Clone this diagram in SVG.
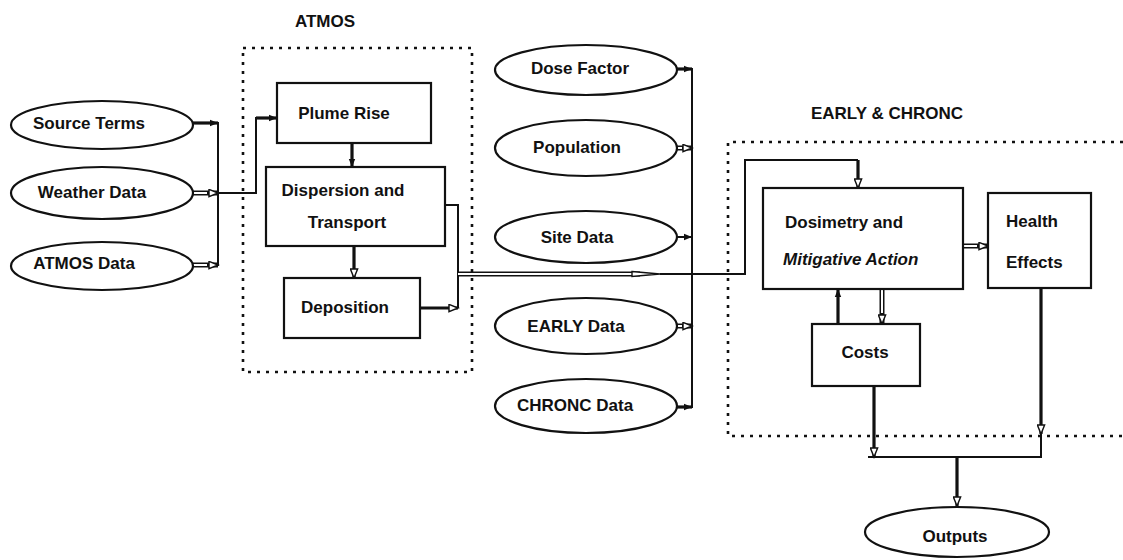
<svg xmlns="http://www.w3.org/2000/svg" width="1123" height="560" viewBox="0 0 1123 560">
<style>
text{font-family:"Liberation Sans",Arial,sans-serif;font-size:17px;font-weight:bold;fill:#111}
.c{text-anchor:middle}
.node{fill:#fff;stroke:#111;stroke-width:2.2}
.dot{fill:none;stroke:#111;stroke-width:2.6;stroke-dasharray:3 6}
.ln{fill:none;stroke:#111;stroke-width:2}
.th{fill:none;stroke:#111;stroke-width:3.2}
.dout{fill:none;stroke:#111;stroke-width:5}
.din{fill:none;stroke:#fff;stroke-width:2}
</style>
<defs>
<marker id="as" viewBox="0 0 10 10" refX="10" refY="5" markerUnits="userSpaceOnUse" markerWidth="9" markerHeight="8" orient="auto">
<path d="M0,1 L10,5 L0,9 z" fill="#111"/>
</marker>
<marker id="ah" viewBox="0 0 12 10" refX="11" refY="5" markerUnits="userSpaceOnUse" markerWidth="12" markerHeight="9" orient="auto">
<path d="M1,1 L11,5 L1,9 z" fill="#fff" stroke="#111" stroke-width="1.6"/>
</marker>
</defs>

<g id="atmos-boundary">
<rect class="dot" x="243" y="48" width="229" height="324"/>
<text x="325" y="27" class="c">ATMOS</text>
</g>
<g id="early-chronc-boundary">
<path class="dot" d="M1123,142 H728 V436 H1123"/>
<text x="887" y="119" class="c">EARLY &amp; CHRONC</text>
</g>

<g id="connectors">
<!-- left inputs -->
<path class="th" d="M193,123 H218" marker-end="url(#as)"/>
<path class="dout" d="M193,193 H218" marker-end="url(#ah)"/>
<path class="din" d="M193,193 H207"/>
<path class="dout" d="M193,265 H218" marker-end="url(#ah)"/>
<path class="din" d="M193,265 H207"/>
<path class="ln" d="M218,122 V266"/>
<path class="ln" d="M218,193 H256 V118 H262"/>
<path class="th" d="M256,118 H277" marker-end="url(#as)"/>
<!-- inside ATMOS -->
<path class="th" d="M352,143 V167" marker-end="url(#as)"/>
<path class="th" d="M354,246 V278" marker-end="url(#ah)"/>
<path class="ln" d="M445,205 H458 V308"/>
<path class="th" d="M420,308 H458" marker-end="url(#ah)"/>
<!-- to dosimetry -->
<path class="dout" d="M458,274 H640"/>
<path class="din" d="M458,274 H634"/>
<path d="M632,271.5 L660,274 L632,276.5 z" fill="#fff" stroke="#111" stroke-width="1.4"/>
<path class="ln" d="M660,274 H745 V160 H858"/>
<path class="th" d="M858,160 V188" marker-end="url(#ah)"/>
<!-- middle inputs bus -->
<path class="ln" d="M692,68 V408"/>
<path class="th" d="M677,69 H692" marker-end="url(#as)"/>
<path class="dout" d="M677,148 H692" marker-end="url(#ah)"/>
<path class="din" d="M677,148 H682"/>
<path class="ln" d="M677,237 H692" marker-end="url(#as)"/>
<path class="dout" d="M677,326 H692" marker-end="url(#ah)"/>
<path class="din" d="M677,326 H682"/>
<path class="th" d="M677,407 H692" marker-end="url(#as)"/>
<!-- right section -->
<path class="dout" d="M963,246 H988" marker-end="url(#ah)"/>
<path class="din" d="M963,246 H977"/>
<path class="th" d="M838,324 V289" marker-end="url(#as)"/>
<path class="dout" d="M882,289 V324" marker-end="url(#ah)"/>
<path class="din" d="M882,289 V313"/>
<path class="th" d="M874,386 V457" marker-end="url(#ah)"/>
<path class="th" d="M1041,288 V434" marker-end="url(#ah)"/>
<path class="ln" d="M1041,434 V457"/>
<path class="ln" d="M868,457 H1042"/>
<path class="th" d="M957,457 V506" marker-end="url(#ah)"/>
</g>

<g id="source-terms"><ellipse class="node" cx="102" cy="125" rx="91" ry="24"/><text x="89" y="129" class="c">Source Terms</text></g>
<g id="weather-data"><ellipse class="node" cx="102" cy="193" rx="91" ry="26"/><text x="92" y="198" class="c">Weather Data</text></g>
<g id="atmos-data"><ellipse class="node" cx="102" cy="266" rx="91" ry="24"/><text x="84" y="269" class="c">ATMOS Data</text></g>

<g id="plume-rise"><rect class="node" x="277" y="83" width="154" height="60"/><text x="344" y="119" class="c">Plume Rise</text></g>
<g id="dispersion"><rect class="node" x="266" y="167" width="179" height="79"/><text x="343" y="196" class="c">Dispersion and</text><text x="347" y="228" class="c">Transport</text></g>
<g id="deposition"><rect class="node" x="284" y="278" width="136" height="60"/><text x="345" y="313" class="c">Deposition</text></g>

<g id="dose-factor"><ellipse class="node" cx="586" cy="70" rx="91" ry="25"/><text x="580" y="74" class="c">Dose Factor</text></g>
<g id="population"><ellipse class="node" cx="586" cy="148" rx="91" ry="28"/><text x="577" y="153" class="c">Population</text></g>
<g id="site-data"><ellipse class="node" cx="586" cy="237" rx="91" ry="26"/><text x="577" y="243" class="c">Site Data</text></g>
<g id="early-data"><ellipse class="node" cx="586" cy="326" rx="91" ry="28"/><text x="576" y="332" class="c">EARLY Data</text></g>
<g id="chronc-data"><ellipse class="node" cx="586" cy="406" rx="91" ry="27"/><text x="575" y="411" class="c">CHRONC Data</text></g>

<g id="dosimetry"><rect class="node" x="763" y="188" width="200" height="101"/><text x="785" y="228">Dosimetry and</text><text x="783" y="265" font-style="italic">Mitigative Action</text></g>
<g id="health-effects"><rect class="node" x="988" y="193" width="103" height="95"/><text x="1006" y="227">Health</text><text x="1006" y="268">Effects</text></g>
<g id="costs"><rect class="node" x="812" y="324" width="108" height="62"/><text x="865" y="358" class="c">Costs</text></g>
<g id="outputs"><ellipse class="node" cx="957" cy="532" rx="92" ry="25"/><text x="955" y="542" class="c">Outputs</text></g>
</svg>
